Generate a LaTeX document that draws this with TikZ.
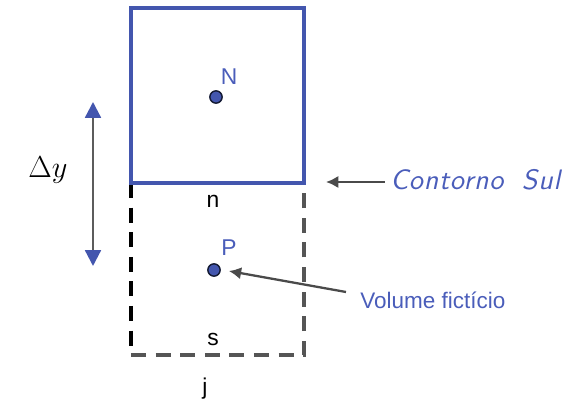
\documentclass[tikz,border=0pt]{standalone}
\usepackage{fontspec}
\setmainfont{Liberation Sans}
\newfontfamily\contfont{lmsans10-oblique.otf}[LetterSpace=2.5]
\usetikzlibrary{arrows.meta, positioning}
\definecolor{volblue}{HTML}{4356AE}
\definecolor{txtblue}{HTML}{4A5DBA}
\definecolor{arrgrey}{HTML}{4A4A4A}
\definecolor{dashgrey}{HTML}{555555}
\tikzset{
  ponto/.style={circle, fill=volblue, draw=black!70!volblue, line width=0.8pt, inner sep=0pt, minimum size=7pt},
  rotulo/.style={font=\fontsize{13}{15}\selectfont, inner sep=1pt},
  seta/.style={arrgrey, line width=1.3pt, -{Latex[length=7pt, width=7pt]}}
}
\begin{document}
\begin{tikzpicture}[x=0.02cm, y=-0.02cm]
  \useasboundingbox (0,0) rectangle (566,405);
  % volume ficticio (tracejado)
  \draw[dashgrey, line width=2.3pt, dash pattern=on 8.5pt off 5.5pt] (131,355) -- (304,355) -- (304,183);
  \draw[black, line width=2.3pt, dash pattern=on 8.5pt off 5.5pt] (131,183) -- (131,355);
  % volume N
  \draw[volblue, line width=2.3pt] (131,8) rectangle (304,183);

  \node[ponto] (dN) at (216,97) {};
  \node[ponto] (dP) at (214,270) {};
  \node[rotulo, txtblue] (N) at (229,77) {N};
  \node[rotulo, txtblue] (P) at (229,248) {P};
  \node[rotulo] (n) at (213,201) {n};
  \node[rotulo] (s) at (213,339) {s};
  \node[rotulo] (j) at (205,389) {j};

  % Delta y
  \node[font=\fontsize{17}{19}\selectfont] (dy) at (48,170) {$\Delta y$};
  \coordinate (dytop) at (93,102);
  \coordinate (dybot) at (93,266);
  \draw[arrgrey!90, line width=1.3pt, {Triangle[color=volblue, length=9pt, width=9pt]}-{Triangle[color=volblue, length=9pt, width=9pt]}] (dytop) -- (dybot);

  % contorno sul
  \node[txtblue, anchor=west, inner sep=0pt, font=\fontsize{16}{18}\contfont\selectfont] (cs) at (390,180)
    {Contorno\hspace{0.3em} Sul};
  \coordinate (cb) at (326,182);
  \draw[seta] ([xshift=-3]cs.west) ++(0,2) -- (cb);

  % volume ficticio
  \node[rotulo, txtblue, anchor=west, inner sep=0pt, font=\fontsize{12.8}{14}\selectfont] (vf) at (360,300) {Volume fictício};
  \draw[seta] (vf.west) ++(-14,-8) -- ([shift={(8,1)}]dP.east);
\end{tikzpicture}
\end{document}
